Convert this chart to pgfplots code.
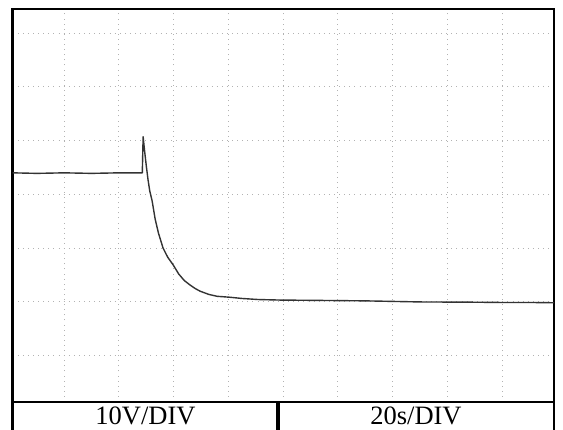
\documentclass[border=0pt]{standalone}
\usepackage{pgfplots}
\pgfplotsset{compat=1.18}
\usepackage{fontspec}
\setmainfont{Liberation Serif}
\begin{document}
\begin{tikzpicture}[x=1pt,y=1pt]
\useasboundingbox (0,0) rectangle (563,430);
\begin{axis}[
  at={(12.7pt,28pt)}, anchor=south west,
  scale only axis, width=541.3pt, height=393pt,
  xmin=0.06, xmax=9.95, ymin=0.14, ymax=7.446,
  xtick={1,...,9}, ytick={1,...,7},
  xticklabels={}, yticklabels={},
  major tick length=0pt,
  grid=major,
  grid style={draw=gray!60, line width=0.9pt, dash pattern=on 0.9pt off 4.2pt},
  axis line style={line width=2.4pt, black},
  clip=true,
]
\addplot[black!80, line width=1.4pt, line join=round] coordinates {
(0.06,4.40) (0.5,4.39) (1.0,4.40) (1.5,4.39) (2.0,4.40) (2.42,4.40)
(2.428,4.40) (2.443,5.07)
(2.473,4.78) (2.503,4.51) (2.533,4.27) (2.563,4.07) (2.607,3.88)
(2.663,3.54) (2.723,3.28) (2.808,3.00) (2.893,2.83) (2.991,2.69)
(3.093,2.52) (3.193,2.40) (3.293,2.32) (3.393,2.25) (3.484,2.20)
(3.643,2.14) (3.793,2.105) (4.032,2.087) (4.243,2.065) (4.543,2.045)
(4.943,2.035) (5.5,2.03) (6.5,2.02) (7.5,2.00) (8.5,1.995) (9.0,1.99) (9.5,1.99) (9.95,1.985)
};
\end{axis}
% table row below the screen
\draw[line width=2.2pt] (12.7,28) -- (554,28);
\draw[line width=2.8pt] (12.7,28) -- (12.7,0);
\draw[line width=2.8pt] (554,28) -- (554,0);
\draw[line width=3.4pt] (278,28) -- (278,0);
\node[anchor=base, font=\fontsize{26.5}{29}\selectfont, inner sep=0pt] at (145.5,5.8) {10V/DIV};
\node[anchor=base, font=\fontsize{26.5}{29}\selectfont, inner sep=0pt] at (416,5.8) {20s/DIV};
\end{tikzpicture}
\end{document}
